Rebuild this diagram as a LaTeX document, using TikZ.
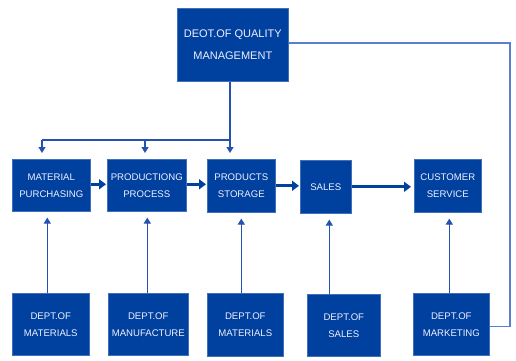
\documentclass[tikz,border=0pt]{standalone}
\usepackage{fontspec}
\setmainfont{Liberation Sans}
\usetikzlibrary{arrows.meta}
\definecolor{boxblue}{HTML}{0041A0}
\definecolor{lineblue}{HTML}{2352B0}
\definecolor{lightline}{HTML}{5A7ED0}
\begin{document}
\begin{tikzpicture}[x=1pt,y=-1pt,
  box/.style={fill=boxblue, draw=boxblue!75!white, line width=0.6pt, text=white!94!blue,
    align=center, inner sep=0pt, anchor=north west,
    font=\fontsize{9.6}{17}\selectfont},
  topbox/.style={box, font=\fontsize{11}{22}\selectfont},
  conn/.style={lineblue, line width=1.2pt},
  downarr/.style={conn, -{Triangle[width=7pt,length=6pt]}, shorten >=6pt},
  uparr/.style={conn, -{Triangle[width=7pt,length=6pt]}, shorten >=6pt},
  thickarr/.style={boxblue, line width=3pt, -{Triangle[width=10pt,length=7pt]}, shorten >=1pt},
  farline/.style={lightline, line width=1.1pt}
]
\useasboundingbox (0,0) rectangle (516,360);

% top
\node[topbox, minimum width=111pt, minimum height=73pt] (top) at (177,8) {DEOT.OF QUALITY\\MANAGEMENT};

% middle row
\node[box, minimum width=78pt, minimum height=52pt] (m1) at (12,159) {MATERIAL\\PURCHASING};
\node[box, minimum width=79pt, minimum height=52pt] (m2) at (107,159) {PRODUCTIONG\\PROCESS};
\node[box, minimum width=68pt, minimum height=53pt] (m3) at (207,159) {PRODUCTS\\STORAGE};
\node[box, minimum width=51pt, minimum height=53pt] (m4) at (300,160) {SALES};
\node[box, minimum width=67pt, minimum height=53pt] (m5) at (414,159) {CUSTOMER\\SERVICE};

% bottom row
\node[box, minimum width=77pt, minimum height=62pt] (b1) at (12,293) {DEPT.OF\\MATERIALS};
\node[box, minimum width=80pt, minimum height=62pt] (b2) at (108,293) {DEPT.OF\\MANUFACTURE};
\node[box, minimum width=76pt, minimum height=63pt] (b3) at (207,293) {DEPT.OF\\MATERIALS};
\node[box, minimum width=73pt, minimum height=62pt] (b4) at (307,294) {DEPT.OF\\SALES};
\node[box, minimum width=76pt, minimum height=62pt] (b5) at (413,293) {DEPT.OF\\MARKETING};

% distribution from top
\coordinate (jr) at (230,140);
\coordinate (jm) at (145,140);
\coordinate (jl) at (42,140);
\draw[conn] (top.south -| jr) -- (jr) -- (jl);
\draw[downarr] (jl) -- (jl |- m1.north);
\draw[downarr] (jm) -- (jm |- m2.north);
\draw[downarr] (jr) -- (jr |- m3.north);

% flow arrows
\draw[thickarr] ([yshift=1pt]m1.east) -- ([yshift=1pt]m1.east -| m2.west);
\draw[thickarr] ([yshift=1pt]m2.east) -- ([yshift=1pt]m2.east -| m3.west);
\draw[thickarr] (m3.east) -- (m3.east -| m4.west);
\draw[thickarr] (m4.east) -- ([xshift=-2pt]m4.east -| m5.west);

% up arrows
\draw[uparr] ([xshift=-3.5pt]b1.north) -- ([xshift=-3.5pt]b1.north |- m1.south);
\draw[uparr] ([xshift=-1pt]b2.north) -- ([xshift=-1pt]b2.north |- m2.south);
\draw[uparr] ([xshift=-4pt]b3.north) -- ([xshift=-4pt]b3.north |- m3.south);
\draw[uparr] ([xshift=-14.5pt]b4.north) -- ([xshift=-14.5pt]b4.north |- m4.south);
\draw[uparr] ([xshift=-2pt]b5.north) -- ([xshift=-2pt]b5.north |- m5.south);

% feedback line
\coordinate (rt) at (510,43);
\draw[farline] (top.east |- rt) -- (rt) |- ([yshift=-2pt]b5.east);
\end{tikzpicture}
\end{document}
